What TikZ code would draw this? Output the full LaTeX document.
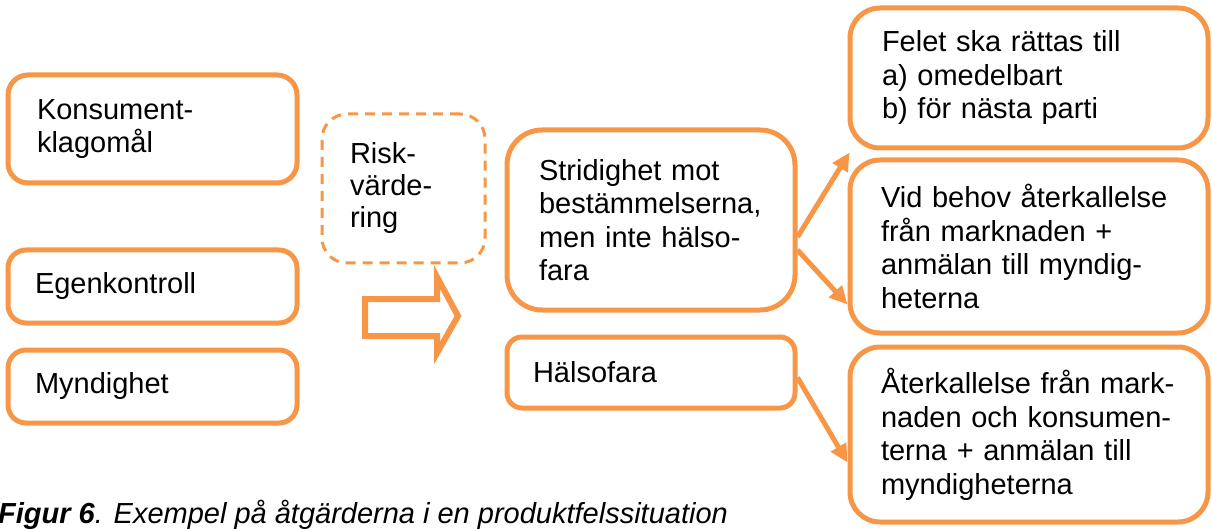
\documentclass[tikz,border=0pt]{standalone}
\usepackage{fontspec}
\setmainfont{Liberation Sans}
\usepackage{tikz}
\usetikzlibrary{positioning,
                arrows.meta}
\definecolor{boxorange}{HTML}{F79646}

\begin{document}
\begin{tikzpicture}[x=1pt,y=-1pt]  % <-- pixel grid, y downwards

\tikzset{
stepbox/.style={
draw=boxorange,
line width=5pt,
align=left,
inner ysep=0pt,
font=\fontsize{29}{33.5}\selectfont
},
riskbox/.style={
draw=boxorange,
line width=3pt,
dash pattern=on 10pt off 7pt,
align=left,
inner ysep=0pt,
font=\fontsize{29}{32}\selectfont
},
flowline/.style={
draw=boxorange,
line width=5pt,
-{Triangle[length=18pt,width=17pt]}
}
}

\useasboundingbox (0,0) rectangle (1212,529);

%----------------------------------
% SOURCES
%----------------------------------

\node[stepbox,rounded corners=20pt,inner xsep=29pt,text width=231pt,minimum height=108pt] (konsument) at (152.5,129) {Konsument-\\klagomål};
\node[stepbox,rounded corners=18pt,inner xsep=27pt,text width=235pt,minimum height=73pt] (egen) at (152.5,286.5) {Egenkontroll};
\node[stepbox,rounded corners=18pt,inner xsep=27pt,text width=235pt,minimum height=73pt] (myndighet) at (152.5,386.5) {Myndighet};

%----------------------------------
% RISK ASSESSMENT
%----------------------------------

\node[riskbox,rounded corners=25pt,inner xsep=28pt,text width=107pt,minimum height=149pt] (risk) at (403.5,188.5) {Risk-\\värde-\\ring};

\draw[boxorange,line width=6pt,line join=miter] (365,299) -- (437,299) -- (437,277) -- (458,316) -- (437,353) -- (437,336) -- (365,336) -- cycle;

%----------------------------------
% OUTCOMES
%----------------------------------

\node[stepbox,rounded corners=35pt,inner xsep=32pt,text width=224pt,minimum height=180pt] (stridighet) at (651,220) {Stridighet mot\\bestämmelserna,\\men inte hälso-\\fara};
\node[stepbox,rounded corners=15pt,inner xsep=26pt,text width=236pt,minimum height=71pt] (halsofara) at (651,372.5) {Hälsofara};

%----------------------------------
% MEASURES
%----------------------------------

\node[stepbox,rounded corners=30pt,inner xsep=32pt,text width=294pt,minimum height=140pt] (felet) at (1029,78) {Felet ska rättas till\\a) omedelbart\\b) för nästa parti};
\node[stepbox,rounded corners=30pt,inner xsep=31pt,text width=296pt,minimum height=173pt] (vidbehov) at (1029,246.5) {Vid behov återkallelse\\från marknaden +\\anmälan till myndig-\\heterna};
\node[stepbox,rounded corners=30pt,inner xsep=31pt,text width=296pt,minimum height=175pt] (aterkallelse) at (1029,434.5) {\mbox{Återkallelse från mark-}\\naden och konsumen-\\terna + anmälan till\\myndigheterna};

%----------------------------------
% CONNECTORS
%----------------------------------

\draw[flowline] ([yshift=-17pt]stridighet.east) -- ([xshift=2pt,yshift=-2pt]felet.south west);
\draw[flowline] ([yshift=-30pt]stridighet.east) -- ([yshift=-58pt]vidbehov.west);
\draw[flowline] ([yshift=-5pt]halsofara.east) -- ([yshift=-28pt]aterkallelse.west);

%----------------------------------
% CAPTION
%----------------------------------

\node[anchor=base west,inner sep=0pt,font=\fontsize{29}{33.5}\selectfont\itshape] (caption) at (-2,523) {{\bfseries Figur 6}. Exempel på åtgärderna i en produktfelssituation};

\end{tikzpicture}
\end{document}
